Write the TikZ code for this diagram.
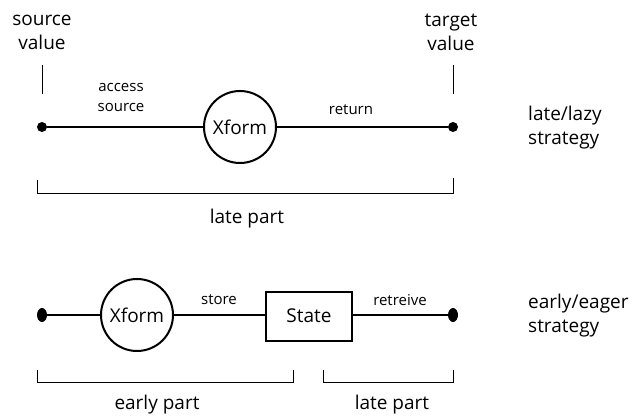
\documentclass[tikz,border=0pt]{standalone}
\usepackage{fontspec}
\setmainfont{Open Sans}
\usetikzlibrary{shapes.geometric}
\begin{document}
\begin{tikzpicture}[x=1pt,y=-1pt,
  big/.style={font=\fontsize{19}{24}\selectfont, align=center, inner sep=0pt},
  bigl/.style={font=\fontsize{19}{24}\selectfont, align=left, inner sep=0pt, anchor=west},
  small/.style={font=\fontsize{15}{20}\selectfont, align=center, inner sep=0pt},
  dot/.style={circle, fill=black, inner sep=0pt, minimum size=10pt},
  edot/.style={ellipse, fill=black, inner sep=0pt, minimum width=10pt, minimum height=14pt},
  xf/.style={circle, draw, line width=2pt, minimum size=72pt, inner sep=0pt, font=\fontsize{19}{24}\selectfont},
  st/.style={rectangle, draw, line width=2pt, minimum width=86pt, minimum height=49pt, inner sep=0pt, font=\fontsize{19}{24}\selectfont},
  wire/.style={line width=2pt},
  brk/.style={line width=0.9pt}]
\useasboundingbox (0,0) rectangle (636,417);

% top row
\node[big] (srcv) at (42,32) {source\\value};
\node[big] (tgtv) at (451,32) {target\\value};
\coordinate (st1a) at (42,65); \coordinate (st1b) at (42,94);
\coordinate (tt1a) at (453,65); \coordinate (tt1b) at (453,94);
\draw[brk] (st1a) -- (st1b);
\draw[brk] (tt1a) -- (tt1b);

\node[dot] (s1) at (42,127) {};
\node[dot] (t1) at (453,127) {};
\node[xf] (x1) at (240,127) {Xform};
\draw[wire] (s1) -- (x1);
\draw[wire] (x1) -- (t1);
\node[small] (acc) at (121,97) {access\\source};
\node[small] (ret) at (351,110) {return};
\node[bigl] (lazy) at (528,128) {late/lazy\\strategy};

\coordinate (b1a) at (37,180); \coordinate (b1b) at (37,193);
\coordinate (b1c) at (453,193); \coordinate (b1d) at (453,178);
\draw[brk] (b1a) -- (b1b) -- (b1c) -- (b1d);
\node[big] (lp1) at (247,219) {late part};

% bottom row
\node[edot] (s2) at (42,315) {};
\node[edot] (t2) at (453,315) {};
\node[xf] (x2) at (137,315) {Xform};
\node[st] (state) at (309,316) {State};
\draw[wire] (s2) -- (x2);
\draw[wire] (x2) -- (x2 -| state.west);
\draw[wire] (t2 -| state.east) -- (t2);
\node[small] (store) at (219,300) {store};
\node[small] (retr) at (400,300) {retreive};
\node[bigl] (eager) at (528,316) {early/eager\\strategy};

\coordinate (e1) at (37,370); \coordinate (e2) at (37,382);
\coordinate (e3) at (293,382); \coordinate (e4) at (293,370);
\draw[brk] (e1) -- (e2) -- (e3) -- (e4);
\node[big] (ep) at (157,405) {early part};

\coordinate (l1) at (323,370); \coordinate (l2) at (323,382);
\coordinate (l3) at (453,382); \coordinate (l4) at (453,370);
\draw[brk] (l1) -- (l2) -- (l3) -- (l4);
\node[big] (lp2) at (392,405) {late part};
\end{tikzpicture}
\end{document}
